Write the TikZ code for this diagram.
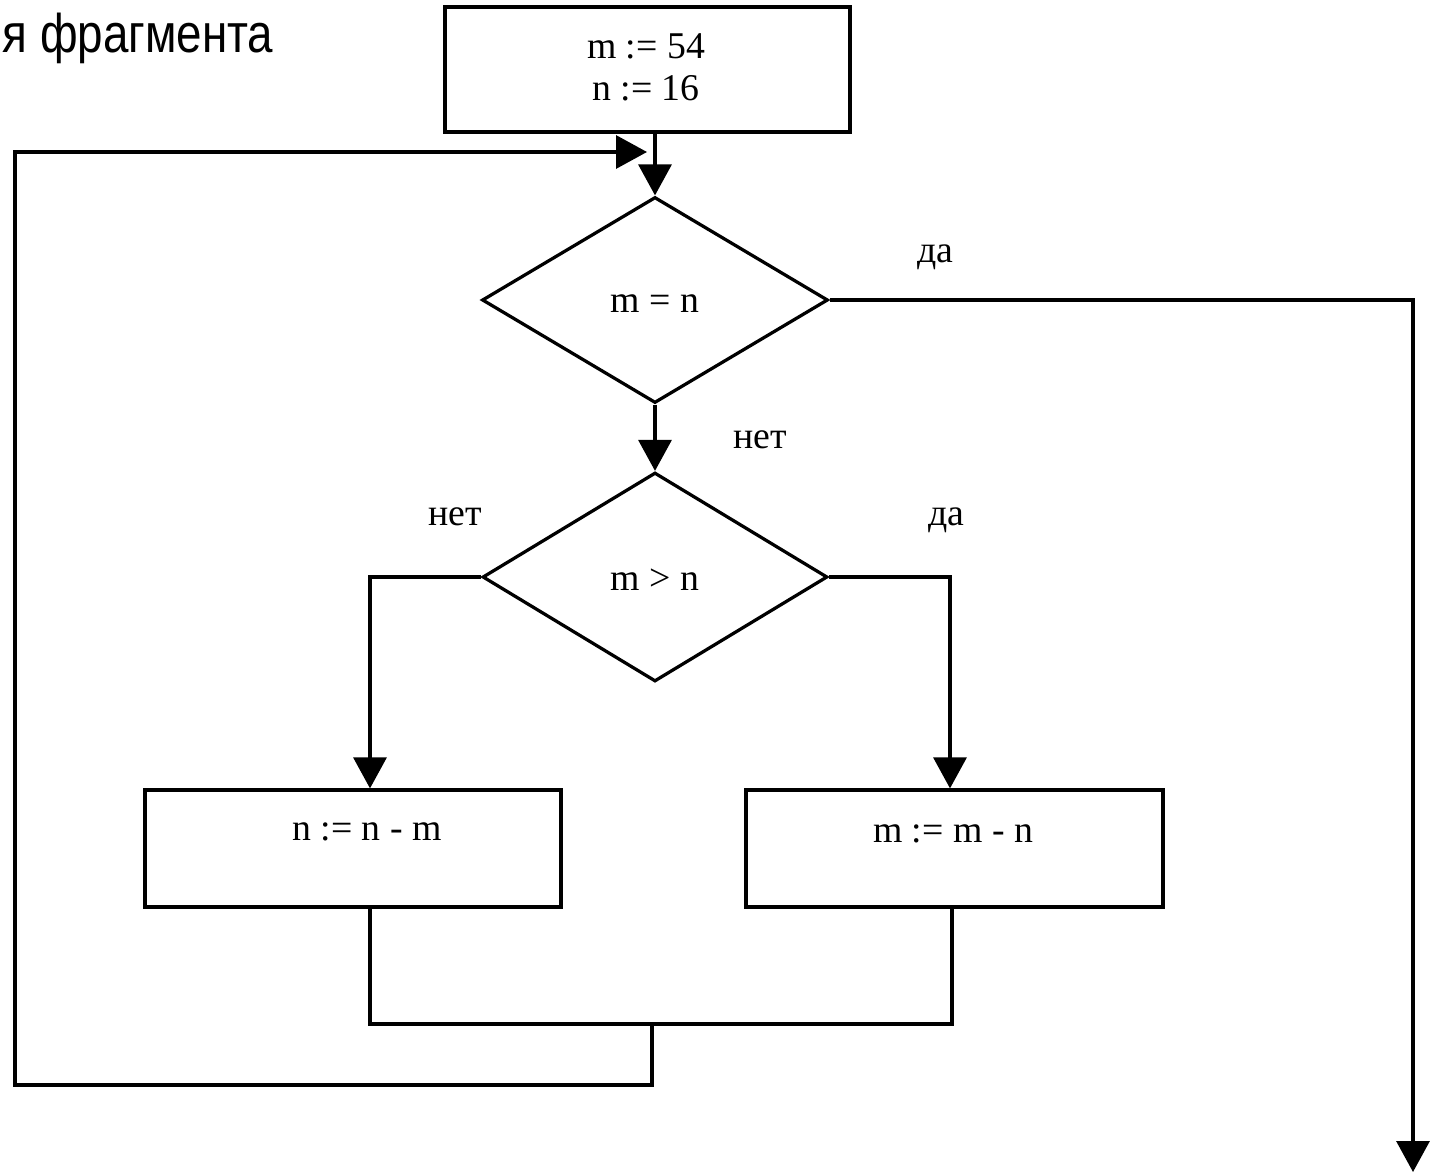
\documentclass[tikz,border=0pt]{standalone}
\usepackage{fontspec}
\usepackage{graphicx}
\setmainfont{Liberation Serif}
\newfontfamily\headfont{Liberation Sans}
\usetikzlibrary{shapes.geometric,arrows.meta}
\begin{document}
\begin{tikzpicture}[x=0.02cm,y=-0.02cm,
  line width=0.065cm,
  box/.style={draw,rectangle,inner sep=0pt,line width=0.065cm},
  decision/.style={draw,diamond,inner sep=0pt,line width=0.065cm},
  txt/.style={font=\fontsize{21.5}{25}\selectfont,inner sep=0pt,anchor=base},
  arr/.style={-{Triangle[length=0.62cm,width=0.66cm]}}]
\useasboundingbox (0,0) rectangle (1431,1173);
% heading fragment
\node[font=\headfont\fontsize{31}{36}\selectfont,inner sep=0pt,anchor=base west] (head) at (1,52) {\scalebox{0.84}[1]{я фрагмента}};
% blocks
\node[box,minimum width=8.1cm,minimum height=2.5cm] (init) at (647.5,69.5) {};
\node[txt] (initA) at (646,58) {m := 54};
\node[txt] (initB) at (646,100) {n := 16};
\node[decision,minimum width=6.92cm,minimum height=4.12cm] (d1) at (655,300) {};
\node[txt] (d1t) at (655,312) {m = n};
\node[decision,minimum width=6.9cm,minimum height=4.18cm] (d2) at (655,577) {};
\node[txt] (d2t) at (655,590) {m > n};
\node[box,minimum width=8.32cm,minimum height=2.34cm] (lbox) at (353,848.5) {};
\node[txt] (lboxt) at (367,840) {n := n - m};
\node[box,minimum width=8.34cm,minimum height=2.34cm] (rbox) at (954.5,848.5) {};
\node[txt] (rboxt) at (953,842) {m := m - n};
% labels
\node[txt] (yes1) at (935,262) {да};
\node[txt] (no1) at (760,448) {нет};
\node[txt] (no2) at (455,525) {нет};
\node[txt] (yes2) at (946,525) {да};
% free ends
\coordinate (exit) at (1413,1172);
\coordinate (join) at (652,1024);
\coordinate (lc) at (15,1085);
\coordinate (entry) at (647,152);
% connectors
\draw[arr] (d1.north |- init.south) -- (d1.north);
\draw[arr] (d1.east) -| (exit);
\draw[arr] (d1.south) -- (d2.north);
\draw[arr] (d2.west) -| ([xshift=0.34cm]lbox.north);
\draw[arr] (d2.east) -| ([xshift=-0.09cm]rbox.north);
\draw ([xshift=0.34cm]lbox.south) |- (join) -| ([xshift=-0.05cm]rbox.south);
\draw[arr] (join) |- (lc) |- (entry);
\end{tikzpicture}
\end{document}
